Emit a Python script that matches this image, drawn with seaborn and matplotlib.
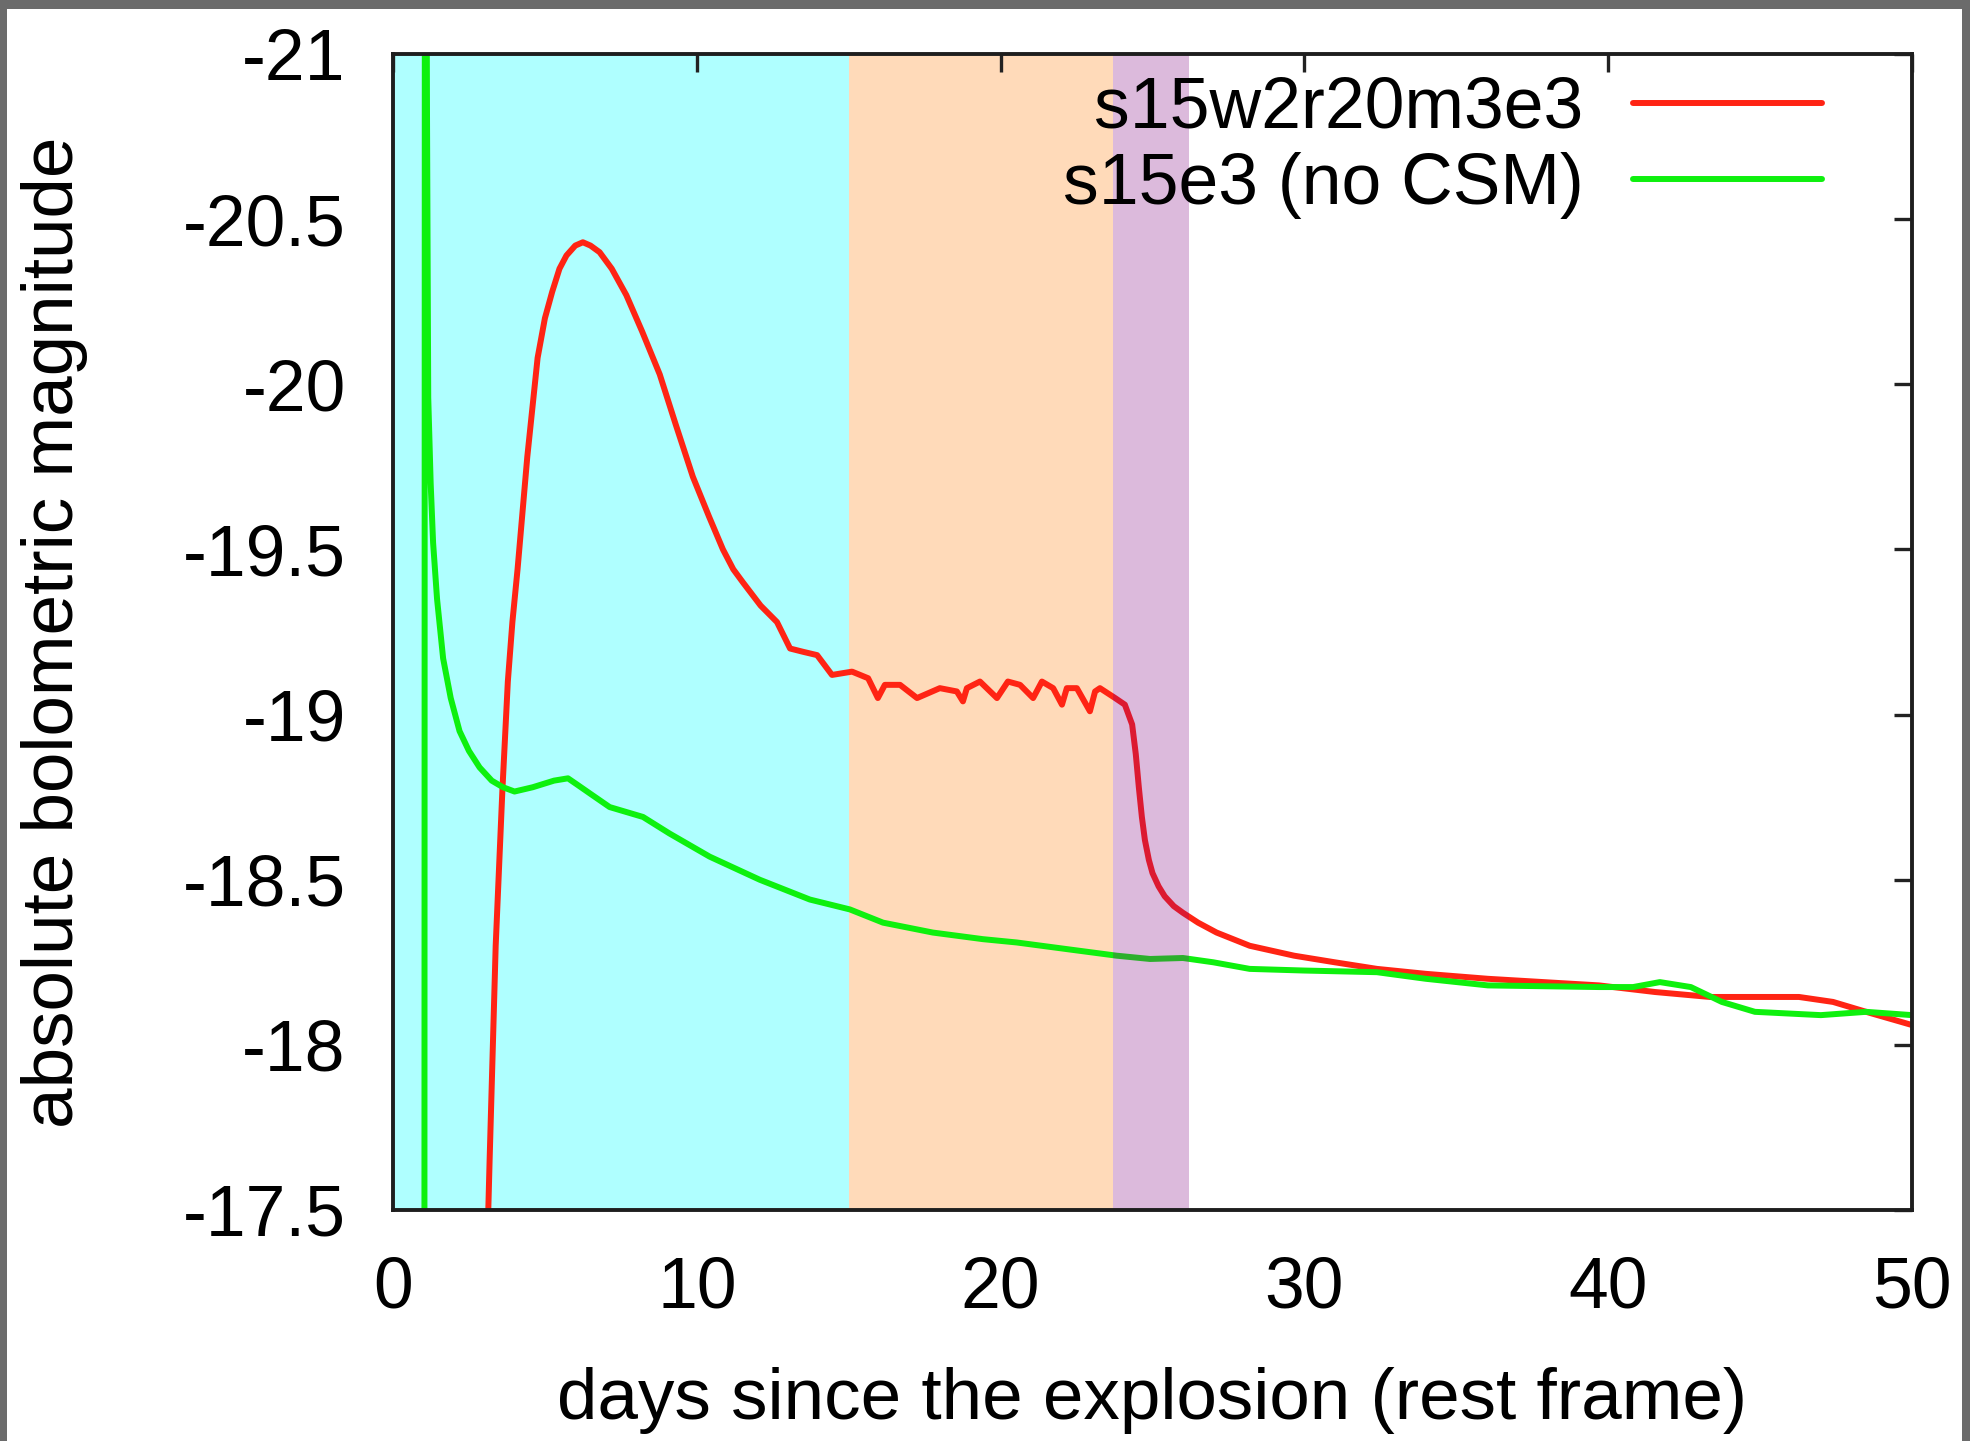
import numpy as np
import pandas as pd
import matplotlib
matplotlib.use("Agg")
import matplotlib.pyplot as plt
from matplotlib.patches import Rectangle
import seaborn as sns

# ---------------- data ----------------
red_label = "s15w2r20m3e3"
green_label = "s15e3 (no CSM)"

red_days = [3.05, 3.18, 3.38, 3.60, 3.78, 3.93, 4.10, 4.42, 4.76, 5.00, 5.24, 5.48,
            5.71, 6.00, 6.25, 6.50, 6.80, 7.20, 7.68, 8.20, 8.78, 9.30, 9.87,
            10.40, 10.86, 11.20, 11.52, 12.10, 12.64, 13.07, 13.50, 13.96, 14.45,
            15.11, 15.64, 15.96, 16.19, 16.69, 17.25, 18.00, 18.56, 18.76, 18.89,
            19.32, 19.88, 20.24, 20.64, 21.07, 21.36, 21.73, 22.02, 22.18, 22.51,
            22.94, 23.11, 23.27, 23.77, 24.09, 24.33, 24.45, 24.55, 24.65, 24.75,
            24.88, 25.00, 25.20, 25.40, 25.70, 26.00, 26.50, 27.11, 28.20, 29.66,
            31.00, 32.39, 34.00, 36.04, 39.70, 41.54, 43.35, 46.28, 47.40, 48.49,
            50.00]
red_mag = [-17.20, -17.65, -18.30, -18.77, -19.10, -19.28, -19.44, -19.78, -20.08,
           -20.20, -20.28, -20.35, -20.39, -20.42, -20.43, -20.42, -20.40, -20.35,
           -20.27, -20.16, -20.03, -19.88, -19.72, -19.60, -19.50, -19.44, -19.40,
           -19.33, -19.28, -19.20, -19.19, -19.18, -19.12, -19.13, -19.11, -19.05,
           -19.09, -19.09, -19.05, -19.08, -19.07, -19.04, -19.08, -19.10, -19.05,
           -19.10, -19.09, -19.05, -19.10, -19.08, -19.03, -19.08, -19.08, -19.01,
           -19.07, -19.08, -19.05, -19.03, -18.97, -18.88, -18.78, -18.69, -18.62,
           -18.56, -18.52, -18.48, -18.45, -18.42, -18.40, -18.37, -18.34, -18.30,
           -18.27, -18.25, -18.23, -18.215, -18.20, -18.18, -18.16, -18.145,
           -18.145, -18.13, -18.10, -18.06]

green_days = [1.03, 1.05, 1.08, 1.12, 1.16, 1.24, 1.32, 1.45, 1.65, 1.90, 2.19,
              2.50, 2.85, 3.25, 3.62, 4.00, 4.60, 5.30, 5.76, 6.03, 6.50, 7.13,
              8.23, 9.10, 10.42, 12.07, 13.72, 15.04, 16.13, 17.77, 19.42, 20.53,
              22.17, 23.82, 24.92, 26.00, 27.00, 28.20, 30.00, 32.39, 34.00,
              36.04, 39.70, 40.82, 41.70, 42.72, 43.74, 44.83, 47.00, 48.49, 50.00]
green_mag = [-16.00, -22.00, -22.00, -20.80, -19.96, -19.70, -19.52, -19.35,
             -19.17, -19.05, -18.95, -18.89, -18.84, -18.80, -18.78, -18.767,
             -18.78, -18.80, -18.807, -18.79, -18.76, -18.72, -18.69, -18.64,
             -18.57, -18.50, -18.44, -18.41, -18.37, -18.34, -18.32, -18.31,
             -18.29, -18.27, -18.26, -18.263, -18.25, -18.23, -18.225, -18.22,
             -18.20, -18.18, -18.175, -18.175, -18.19, -18.175, -18.13, -18.10,
             -18.09, -18.10, -18.09]

# shaded phases (day ranges)
phase_starts = [0.0, 15.0, 23.7]
phase_ends = [15.0, 23.7, 26.2]

x_ticks = [0, 10, 20, 30, 40, 50]
y_ticks = [-21, -20.5, -20, -19.5, -19, -18.5, -18, -17.5]
y_tick_labels = ["-21", "-20.5", "-20", "-19.5", "-19", "-18.5", "-18", "-17.5"]

xlabel = "days since the explosion (rest frame)"
ylabel = "absolute bolometric magnitude"

# ---------------- plot ----------------
sns.set_theme(style="white")
plt.rcParams["font.family"] = ["Liberation Sans", "DejaVu Sans"]
plt.rcParams["axes.unicode_minus"] = False
plt.rcParams["text.color"] = "black"
plt.rcParams["axes.labelcolor"] = "black"

W, H, DPI = 1970, 1441, 100
fig = plt.figure(figsize=(W / DPI, H / DPI), dpi=DPI)
fig.patch.set_facecolor("white")
ax = fig.add_axes([393 / W, 1 - 1210 / H, (1912 - 393) / W, (1210 - 54) / H])

FS = 51.5
LFS = 52.5

# phase shading: first two under the curves, the last one translucent on top
ax.axvspan(phase_starts[0], phase_ends[0], color="#afffff", lw=0, zorder=0)
ax.axvspan(phase_starts[1], phase_ends[1], color="#ffdab9", lw=0, zorder=0)
ax.axvspan(phase_starts[2], phase_ends[2], facecolor=(0.5, 0.0, 0.5, 0.27), lw=0, zorder=5)

red_df = pd.DataFrame({"day": red_days, "mag": red_mag})
green_df = pd.DataFrame({"day": green_days, "mag": green_mag})

sns.lineplot(data=red_df, x="day", y="mag", ax=ax, color="#ff2414", linewidth=4.3,
             estimator=None, sort=False, label=red_label, zorder=3)
sns.lineplot(data=green_df, x="day", y="mag", ax=ax, color="#0ef00e", linewidth=4.3,
             estimator=None, sort=False, label=green_label, zorder=3)
for ln in ax.get_lines():
    ln.set_solid_joinstyle("round")

ax.set_xlim(0, 50)
ax.set_ylim(-17.5, -21)
ax.set_xticks(x_ticks)
ax.set_xticklabels([str(t) for t in x_ticks])
ax.set_yticks(y_ticks)
ax.set_yticklabels(y_tick_labels)

ax.tick_params(axis="both", which="both", direction="in", length=13, width=2.4,
               color="#222222", top=True, right=True, labelsize=FS, labelcolor="black")
ax.tick_params(axis="y", pad=34)
ax.tick_params(axis="x", pad=33)
for s in ax.spines.values():
    s.set_color("#1e1e1e")
    s.set_linewidth(2.8)
    s.set_zorder(10)
ax.set_axisbelow(False)

ax.set_xlabel(xlabel, fontsize=LFS, color="black")
ax.set_ylabel(ylabel, fontsize=LFS, color="black")
ax.xaxis.set_label_coords(0.5, -0.1358)
ax.yaxis.set_label_coords(-0.2008, 0.5)

leg = ax.legend(loc="upper right", bbox_to_anchor=(0.941, 0.981), frameon=False,
                markerfirst=False, fontsize=FS, handlelength=2.65,
                handletextpad=0.69, labelspacing=0.13, borderpad=0, borderaxespad=0)
for t in leg.get_texts():
    t.set_color("black")
leg.set_zorder(20)

# dark frame around the picture (top, left, right)
gray = "#6b6b6b"
fig.add_artist(Rectangle((0, 1 - 9 / H), 1, 9 / H, transform=fig.transFigure,
                         facecolor=gray, edgecolor="none", zorder=50))
fig.add_artist(Rectangle((0, 0), 7 / W, 1, transform=fig.transFigure,
                         facecolor=gray, edgecolor="none", zorder=50))
fig.add_artist(Rectangle((1 - 8 / W, 0), 8 / W, 1, transform=fig.transFigure,
                         facecolor=gray, edgecolor="none", zorder=50))

fig.savefig("out.png", dpi=DPI)
